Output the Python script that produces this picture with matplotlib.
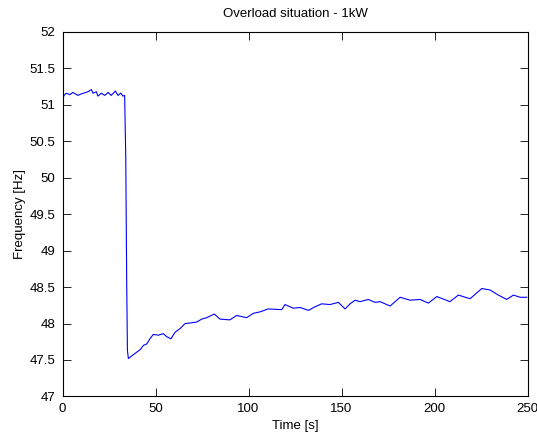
import numpy as np
import matplotlib
matplotlib.use("Agg")
import matplotlib.pyplot as plt

# values
time_s = [0.3, 0.8, 2.0, 3.9, 5.6, 8.3, 10.0, 13.7, 15.5, 16.4, 18.2, 19.0, 20.9,
          22.7, 24.5, 26.2, 28.4, 29.8, 31.3, 32.5, 33.4, 34.0, 34.5, 34.9, 35.4,
          39.0, 41.7, 43.5, 45.3, 47.0, 48.8, 51.5, 54.2, 56.0, 58.3, 60.5, 63.2,
          65.9, 69.5, 72.1, 74.8, 77.5, 81.6, 84.7, 90.0, 93.6, 99.0, 102.6, 106.2,
          110.6, 117.8, 119.6, 124.1, 127.7, 132.2, 135.8, 139.3, 143.8, 148.3,
          151.9, 154.6, 157.3, 159.9, 164.4, 168.0, 170.7, 176.1, 181.5, 186.8,
          192.2, 196.7, 201.2, 208.3, 212.8, 219.1, 225.4, 229.8, 234.3, 238.8,
          242.4, 246.0, 249.6]
freq_hz = [51.09, 51.13, 51.16, 51.14, 51.17, 51.13, 51.15, 51.18, 51.21, 51.16,
           51.18, 51.12, 51.16, 51.13, 51.17, 51.13, 51.19, 51.13, 51.16, 51.12,
           51.13, 50.28, 48.59, 47.63, 47.52, 47.59, 47.64, 47.70, 47.72, 47.79,
           47.85, 47.84, 47.86, 47.82, 47.79, 47.88, 47.93, 48.00, 48.01, 48.02,
           48.06, 48.08, 48.13, 48.06, 48.05, 48.11, 48.08, 48.14, 48.16, 48.20,
           48.19, 48.26, 48.21, 48.22, 48.18, 48.23, 48.27, 48.26, 48.29, 48.20,
           48.27, 48.32, 48.30, 48.33, 48.29, 48.30, 48.24, 48.36, 48.32, 48.33,
           48.28, 48.37, 48.30, 48.39, 48.34, 48.48, 48.46, 48.39, 48.33, 48.39,
           48.36, 48.36]

plt.rcParams['font.family'] = ['Liberation Sans', 'DejaVu Sans']

fig = plt.figure(figsize=(5.37, 4.38), dpi=100)
ax = fig.add_axes([0.1164, 0.095, 0.866, 0.832])

ax.plot(time_s, freq_hz, color='#0000ff', linewidth=0.8)

ax.set_xlim(0, 250)
ax.set_ylim(47, 52)
ax.set_xticks(np.arange(0, 251, 50))
ax.set_yticks(np.arange(47, 52.01, 0.5))
ax.set_yticklabels(['%g' % v for v in np.arange(47, 52.01, 0.5)])
ax.tick_params(direction='in', length=6, width=0.6, top=True, right=True,
               labelsize=9.5, pad=5)
for s in ax.spines.values():
    s.set_linewidth(0.8)

ax.set_xlabel('Time [s]', fontsize=9.5, labelpad=3)
ax.set_ylabel('Frequency [Hz]', fontsize=9.5, labelpad=3)
ax.set_title('Overload situation - 1kW', fontsize=9.5, pad=11)

fig.savefig('out.png', dpi=100)
